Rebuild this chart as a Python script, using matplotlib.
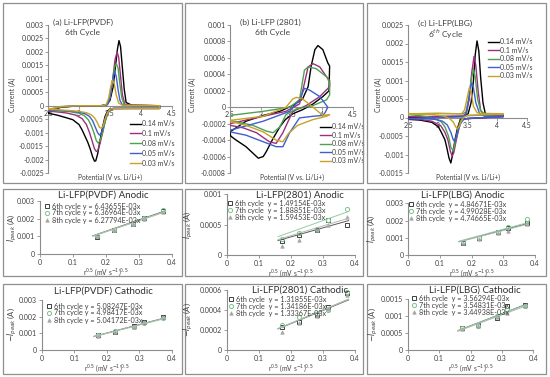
import numpy as np
import matplotlib
matplotlib.use('Agg')
import matplotlib.pyplot as plt
from matplotlib.patches import Rectangle
from matplotlib.ticker import FuncFormatter

plt.rcParams['font.family'] = ['Lato', 'DejaVu Sans']

# ---------------- data: CV curves (6th cycle) ----------------
rates = ['0.14 mV/s', '0.1 mV/s', '0.08 mV/s', '0.05 mV/s', '0.03 mV/s']
rate_colors = ['#000000', '#9b2f7d', '#4ea24e', '#3f5fcf', '#c9a227']

# (a) Li-LFP(PVDF)
pvdf_v_014 = [2.5, 2.7, 3.0, 3.35, 3.45, 3.5, 3.55, 3.59, 3.62, 3.645, 3.67, 3.7, 3.73, 3.76, 3.85, 4.3,
              4.3, 3.8, 3.55, 3.5, 3.46, 3.42, 3.38, 3.34, 3.3, 3.27, 3.25, 3.22, 3.18, 3.14, 3.1, 3.05, 3.0, 2.9, 2.8, 2.65, 2.5]
pvdf_i_014 = [-0.00025, -0.00006, 0.0, 0.0, 0.00003, 0.0002, 0.0007, 0.0015, 0.0021, 0.00242, 0.0022, 0.0014, 0.0006, 0.00012, 0.00002, 0.0,
              -0.0001, -0.0001, -0.0001, -0.00012, -0.0002, -0.0004, -0.0008, -0.00128, -0.0018, -0.00205, -0.00206, -0.0019, -0.0016, -0.00135, -0.00115, -0.0009, -0.0007, -0.00052, -0.00045, -0.00035, -0.00028]
pvdf_v_010 = [2.5, 2.7, 3.0, 3.35, 3.45, 3.5, 3.54, 3.58, 3.615, 3.64, 3.67, 3.7, 3.74, 3.85, 4.3,
              4.3, 3.8, 3.55, 3.5, 3.46, 3.42, 3.38, 3.34, 3.3, 3.28, 3.25, 3.21, 3.17, 3.12, 3.05, 2.95, 2.8, 2.65, 2.5]
pvdf_i_010 = [-0.0002, -0.00005, 0.0, 0.0, 0.00005, 0.0003, 0.0009, 0.0017, 0.0020, 0.0018, 0.0011, 0.0004, 0.00005, 0.00001, 0.0,
              -0.0001, -0.0001, -0.00011, -0.00015, -0.0003, -0.0006, -0.001, -0.0014, -0.00168, -0.0017, -0.0016, -0.0013, -0.001, -0.0007, -0.00048, -0.00035, -0.00027, -0.00023, -0.0002]
pvdf_v_008 = [2.5, 2.7, 3.0, 3.38, 3.46, 3.5, 3.54, 3.57, 3.6, 3.63, 3.66, 3.69, 3.73, 3.85, 4.3,
              4.3, 3.8, 3.56, 3.5, 3.46, 3.42, 3.38, 3.34, 3.31, 3.28, 3.24, 3.2, 3.15, 3.08, 3.0, 2.85, 2.65, 2.5]
pvdf_i_008 = [-0.00018, -0.00004, 0.0, 0.0, 0.00005, 0.0003, 0.0009, 0.0014, 0.00158, 0.0014, 0.0008, 0.0003, 0.00004, 0.00001, 0.0,
              -0.0001, -0.0001, -0.0001, -0.00015, -0.0003, -0.0006, -0.001, -0.0013, -0.00139, -0.0013, -0.001, -0.00075, -0.00052, -0.00036, -0.00028, -0.00022, -0.00019, -0.00017]
pvdf_v_005 = [2.5, 2.7, 3.0, 3.38, 3.46, 3.5, 3.53, 3.555, 3.575, 3.6, 3.63, 3.66, 3.7, 3.85, 4.3,
              4.3, 3.8, 3.56, 3.5, 3.46, 3.42, 3.38, 3.35, 3.33, 3.3, 3.26, 3.22, 3.17, 3.1, 3.0, 2.85, 2.65, 2.5]
pvdf_i_005 = [-0.00016, -0.00004, 0.0, 0.0, 0.00005, 0.0003, 0.0008, 0.0011, 0.00126, 0.0011, 0.0006, 0.0002, 0.00003, 0.00001, 0.0,
              -0.0001, -0.0001, -0.0001, -0.00014, -0.00025, -0.0005, -0.0009, -0.00105, -0.00109, -0.001, -0.00078, -0.00056, -0.0004, -0.0003, -0.00024, -0.0002, -0.00017, -0.00015]
pvdf_v_003 = [2.5, 2.7, 3.0, 3.38, 3.44, 3.48, 3.51, 3.54, 3.57, 3.6, 3.64, 3.7, 3.85, 4.3,
              4.3, 3.8, 3.56, 3.5, 3.46, 3.42, 3.39, 3.36, 3.33, 3.29, 3.25, 3.2, 3.12, 3.0, 2.85, 2.65, 2.5]
pvdf_i_003 = [-0.00014, -0.00003, 0.0, 0.0, 0.00005, 0.0003, 0.0007, 0.00095, 0.0008, 0.0004, 0.0001, 0.00002, 0.00001, 0.0,
              -0.0001, -0.0001, -0.0001, -0.00013, -0.00025, -0.0005, -0.00075, -0.00084, -0.0008, -0.0006, -0.00045, -0.00034, -0.00026, -0.00021, -0.00018, -0.00015, -0.00013]

# (b) Li-LFP (2801)
c2801_v_014 = [2.5, 2.76, 3.04, 3.31, 3.52, 3.68, 3.77, 3.82, 3.88, 3.93, 4.01, 4.09, 4.12, 4.11, 4.01, 3.85, 3.68,
               3.52, 3.4, 3.31, 3.2, 3.09, 3.04, 2.96, 2.76, 2.6, 2.51, 2.5]
c2801_i_014 = [-0.0003, -0.00017, -0.0001, -0.00005, 0.00002, 0.0001, 0.00025, 0.0005, 0.0007, 0.00075, 0.0007, 0.00054, 0.0005, 0.0002, 0.00013, 0.00004, -0.00003,
               -0.00008, -0.00015, -0.00024, -0.00038, -0.00054, -0.0006, -0.00062, -0.00048, -0.0004, -0.00035, -0.0003]
c2801_v_010 = [2.5, 3.04, 3.41, 3.63, 3.71, 3.77, 3.85, 3.96, 4.07, 4.12, 4.12, 3.96, 3.74, 3.52, 3.36, 3.25, 3.14, 2.93, 2.71, 2.5]
c2801_i_010 = [-0.0002, -0.00011, -0.00005, 0.00004, 0.00029, 0.00049, 0.00053, 0.00049, 0.00037, 0.00033, 0.00025, 0.00013, 0.00002, -0.00005, -0.00031, -0.00044, -0.00042, -0.00031, -0.00025, -0.00022]
c2801_v_008 = [2.5, 3.04, 3.47, 3.63, 3.71, 3.77, 3.9, 4.07, 4.12, 4.12, 4.07, 3.85, 3.58, 3.41, 3.31, 3.2, 3.09, 2.87, 2.5]
c2801_i_008 = [-0.0001, -0.00005, 0.0, 0.00009, 0.00045, 0.00049, 0.00047, 0.00037, 0.0003, 0.00015, 0.00009, 0.00002, -0.00002, -0.00009, -0.00024, -0.00031, -0.00029, -0.00022, -0.00016]
c2801_v_005 = [2.5, 3.04, 3.47, 3.63, 3.71, 3.79, 3.96, 4.09, 4.05, 4.01, 3.85, 3.63, 3.47, 3.36, 3.25, 3.04, 2.76, 2.5]
c2801_i_005 = [-0.00028, -0.00017, -0.00005, 0.00009, 0.00023, 0.00021, 0.00013, 0.0, -0.00006, -0.0001, -0.00011, -0.00013, -0.00031, -0.00048, -0.00048, -0.00042, -0.00034, -0.0003]
c2801_v_003 = [2.5, 3.04, 3.41, 3.52, 3.58, 3.68, 3.85, 4.01, 4.12, 4.07, 3.85, 3.6, 3.45, 3.36, 3.25, 3.04, 2.76, 2.5]
c2801_i_003 = [-0.00016, -0.00011, 0.0, 0.0001, 0.00012, 0.0001, 0.0, -0.0001, -0.00009, -0.00011, -0.00015, -0.00022, -0.00032, -0.00042, -0.0004, -0.0003, -0.00022, -0.00017]

# (c) Li-LFP(LBG)
lbg_v_014 = [2.5, 3.0, 3.45, 3.51, 3.56, 3.6, 3.63, 3.66, 3.69, 3.72, 3.76, 3.8, 4.1,
             4.1, 3.5, 3.42, 3.38, 3.33, 3.29, 3.25, 3.22, 3.19, 3.15, 3.12, 3.06, 3.01, 2.9, 2.7, 2.5]
lbg_i_014 = [0.0, 0.00002, 0.00003, 0.0001, 0.0004, 0.001, 0.0017, 0.00207, 0.0018, 0.0011, 0.0004, 0.0001, 0.00005,
             0.00003, -0.00003, -0.00005, -0.00005, -0.0003, -0.0006, -0.001, -0.00123, -0.0011, -0.0008, -0.0006, -0.0004, -0.00025, -0.00013, -0.00007, -0.00005]
lbg_v_010 = [2.5, 3.0, 3.42, 3.48, 3.53, 3.57, 3.61, 3.64, 3.68, 3.72, 3.78, 4.1,
             4.1, 3.5, 3.42, 3.38, 3.34, 3.3, 3.27, 3.24, 3.21, 3.17, 3.12, 3.05, 2.9, 2.7, 2.5]
lbg_i_010 = [0.00002, 0.00003, 0.00004, 0.0001, 0.0005, 0.0012, 0.00165, 0.0014, 0.0007, 0.0002, 0.00006, 0.00005,
             0.00002, -0.00003, -0.00006, -0.00015, -0.0004, -0.0007, -0.00095, -0.00104, -0.0009, -0.0006, -0.0004, -0.00022, -0.0001, -0.00005, -0.00003]
lbg_v_008 = [2.5, 3.0, 3.42, 3.48, 3.52, 3.56, 3.6, 3.63, 3.67, 3.72, 3.78, 4.1,
             4.1, 3.5, 3.42, 3.38, 3.34, 3.3, 3.26, 3.22, 3.18, 3.12, 3.05, 2.9, 2.7, 2.5]
lbg_i_008 = [0.0001, 0.00011, 0.0001, 0.00015, 0.0005, 0.001, 0.0013, 0.0011, 0.0005, 0.00018, 0.00011, 0.0001,
             0.00008, 0.00005, 0.0, -0.0001, -0.0003, -0.0006, -0.0009, -0.0008, -0.0005, -0.00025, -0.0001, 0.0, 0.00005, 0.00008]
lbg_v_005 = [2.5, 3.0, 3.42, 3.47, 3.51, 3.54, 3.57, 3.6, 3.64, 3.7, 3.78, 4.1,
             4.1, 3.5, 3.43, 3.39, 3.35, 3.32, 3.29, 3.26, 3.22, 3.16, 3.08, 2.95, 2.7, 2.5]
lbg_i_005 = [-0.00003, 0.0, 0.00002, 0.0001, 0.0004, 0.0007, 0.00093, 0.0008, 0.0004, 0.00012, 0.00004, 0.00003,
             0.00002, -0.00002, -0.00006, -0.00015, -0.0003, -0.0005, -0.00066, -0.0006, -0.0004, -0.0002, -0.0001, -0.00005, -0.00003, -0.00003]
lbg_v_003 = [2.5, 3.0, 3.4, 3.45, 3.49, 3.53, 3.56, 3.6, 3.66, 3.75, 4.1,
             4.1, 3.5, 3.43, 3.39, 3.36, 3.33, 3.3, 3.26, 3.2, 3.1, 2.9, 2.5]
lbg_i_003 = [0.0001, 0.00011, 0.0001, 0.0002, 0.0005, 0.0008, 0.0007, 0.0003, 0.00013, 0.0001, 0.0001,
             0.00009, 0.00006, 0.0, -0.00012, -0.00025, -0.0003, -0.00025, -0.00012, -0.00003, 0.00004, 0.00008, 0.0001]

# ---------------- data: peak current vs sqrt(scan rate) ----------------
sqrt_rate = [0.173, 0.224, 0.283, 0.316, 0.374]
cycles = ['6th cycle', '7th cycle', '8th cycle']

pvdf_an = [[0.00098, 0.00136, 0.0017, 0.00202, 0.00245],
           [0.00102, 0.00138, 0.00172, 0.00204, 0.0025],
           [0.001, 0.00134, 0.00168, 0.002, 0.0024]]
pvdf_an_k = [6.43655e-3, 6.36964e-3, 6.27794e-3]
c2801_an = [[0.00023, 0.00033, 0.00041, 0.00057, 0.0005],
            [0.00027, 0.00036, 0.00043, 0.00058, 0.00076],
            [0.00015, 0.00024, 0.00041, 0.00049, 0.00063]]
c2801_an_k = [1.49154e-3, 1.88851e-3, 1.59453e-3]
lbg_an = [[0.00072, 0.00097, 0.00132, 0.00159, 0.00184],
          [0.00075, 0.001, 0.00135, 0.00163, 0.0021],
          [0.00072, 0.00092, 0.0013, 0.0014, 0.0018]]
lbg_an_k = [4.84671e-3, 4.99028e-3, 4.74665e-3]

pvdf_ca = [[0.0009, 0.0011, 0.00142, 0.0017, 0.002],
           [0.00088, 0.00112, 0.0014, 0.00165, 0.00195],
           [0.00087, 0.0011, 0.00138, 0.00168, 0.00198]]
pvdf_ca_k = [5.08247e-3, 4.98417e-3, 5.04172e-3]
c2801_ca = [[0.00023, 0.00028, 0.00035, 0.00043, 0.00057],
            [0.00025, 0.00033, 0.00036, 0.0004, 0.00058],
            [0.00018, 0.00027, 0.00034, 0.00041, 0.00055]]
c2801_ca_k = [1.31855e-3, 1.34186e-3, 1.33367e-3]
lbg_ca = [[0.00065, 0.00073, 0.00095, 0.0013, 0.00133],
          [0.00065, 0.00072, 0.001, 0.00117, 0.0013],
          [0.00062, 0.0007, 0.00097, 0.0011, 0.0013]]
lbg_ca_k = [3.56294e-3, 3.54831e-3, 3.44938e-3]

# ---------------- figure ----------------
W, H = 550, 377
fig = plt.figure(figsize=(W / 100, H / 100), dpi=100)
fig.patch.set_facecolor('white')
txt = '#404040'
grey = '#8c8c8c'


def px_axes(x0, x1, y0, y1):
    return fig.add_axes([x0 / W, 1 - y1 / H, (x1 - x0) / W, (y1 - y0) / H])


def ftext(x, y, s, **kw):
    kw.setdefault('color', txt)
    return fig.text(x / W, 1 - y / H, s, **kw)


def box(x0, x1, y0, y1):
    fig.add_artist(Rectangle((x0 / W, 1 - y1 / H), (x1 - x0) / W, (y1 - y0) / H,
                             transform=fig.transFigure, fill=False, ec='#8f8f8f', lw=0.9))


fmt = FuncFormatter(lambda v, p: '%g' % (round(v, 6) + 0.0) if abs(v) > 1e-9 else '0')

cols = [(3, 182), (185, 363), (367, 546)]
for x0, x1 in cols:
    box(x0, x1, 3, 183)
    box(x0, x1, 189, 276)
    box(x0, x1, 284, 374)


def cv_panel(rect, curves, ylim, ystep, ylab_x, leg_xy, ls):
    ax = px_axes(*rect)
    for (v, i), c, lab in zip(curves, rate_colors, rates):
        ax.plot(v, i, color=c, lw=1.0, label=lab, zorder=3)
    ax.set_xlim(2.5, 4.5)
    ax.set_ylim(*ylim)
    ax.set_xticks([2.5, 3, 3.5, 4, 4.5])
    ax.set_yticks(np.round(np.arange(ylim[0], ylim[1] + ystep / 2, ystep), 6))
    ax.xaxis.set_major_formatter(fmt)
    ax.yaxis.set_major_formatter(fmt)
    for s in ['top', 'right']:
        ax.spines[s].set_visible(False)
    ax.spines['bottom'].set_position(('data', 0))
    for s in ['left', 'bottom']:
        ax.spines[s].set_color(grey)
        ax.spines[s].set_linewidth(0.8)
    ax.tick_params(labelsize=5, colors=txt, length=2, width=0.6, pad=1)
    ax.tick_params(axis='x', color=grey)
    ax.tick_params(axis='y', color=grey)
    ax.patch.set_alpha(0)
    cx = (rect[0] + rect[1]) / 2
    ftext(cx, 177, 'Potential (V vs. Li/Li+)', fontsize=4.8, ha='center', va='center')
    ftext(ylab_x, 95, 'Current (A)', fontsize=5, rotation=90, ha='center', va='center')
    ax.legend(loc='upper left', bbox_to_anchor=(leg_xy[0] / W, 1 - leg_xy[1] / H),
              bbox_transform=fig.transFigure, frameon=False, fontsize=5,
              handlelength=1.6, handletextpad=0.1, labelspacing=ls, borderpad=0,
              borderaxespad=0, labelcolor=txt)
    return ax


cv_panel((48, 172, 25, 173),
         [(pvdf_v_014, pvdf_i_014), (pvdf_v_010, pvdf_i_010), (pvdf_v_008, pvdf_i_008),
          (pvdf_v_005, pvdf_i_005), (pvdf_v_003, pvdf_i_003)],
         (-0.0025, 0.003), 0.0005, 12, (130, 120), 0.42)
cv_panel((230, 353, 25, 173),
         [(c2801_v_014, c2801_i_014), (c2801_v_010, c2801_i_010), (c2801_v_008, c2801_i_008),
          (c2801_v_005, c2801_i_005), (c2801_v_003, c2801_i_003)],
         (-0.0008, 0.001), 0.0002, 192, (320, 123), 0.22)
cv_panel((408, 527, 25, 173),
         [(lbg_v_014, lbg_i_014), (lbg_v_010, lbg_i_010), (lbg_v_008, lbg_i_008),
          (lbg_v_005, lbg_i_005), (lbg_v_003, lbg_i_003)],
         (-0.0015, 0.0025), 0.0005, 378, (488, 38), 0.22)

ftext(53, 22, '(a) Li-LFP(PVDF)', fontsize=6, va='center')
ftext(65, 33, '6th Cycle', fontsize=6, va='center')
ftext(240, 22, '(b) Li-LFP (2801)', fontsize=6, va='center')
ftext(255, 33, '6th Cycle', fontsize=6, va='center')
ftext(418, 23, '(c) Li-LFP(LBG)', fontsize=6, va='center')
ftext(428, 34, '6$^{th}$ Cycle', fontsize=6, va='center')

# ---------------- scatter panels ----------------
mk_style = [dict(marker='s', mfc='none', mec='#404040', ms=3, mew=0.7),
            dict(marker='o', mfc='none', mec='#7cc48c', ms=3, mew=0.7),
            dict(marker='^', mfc='#a6a6a6', mec='#a6a6a6', ms=2.5, mew=0.5)]
fit_colors = ['#595959', '#8fd0a0', '#b5b5b5']
fit_x = np.array([0.16, 0.38])


def fit_panel(rect, ys, ks, ylim, yticks, title, title_xy, ylab, ylab_x, leg_xy, label_pad):
    ax = px_axes(*rect)
    for y, k, st, fc, cy in zip(ys, ks, mk_style, fit_colors, cycles):
        ax.plot(sqrt_rate, y, ls='none', label=cy + label_pad + 'y = %.5fE-03x' % (k * 1e3), **st)
        ax.plot(fit_x, k * fit_x, color=fc, lw=0.7)
    ax.set_xlim(0, 0.4)
    ax.set_ylim(*ylim)
    ax.set_xticks([0, 0.1, 0.2, 0.3, 0.4])
    ax.set_yticks(yticks)
    ax.xaxis.set_major_formatter(fmt)
    ax.yaxis.set_major_formatter(fmt)
    for s in ['top', 'right']:
        ax.spines[s].set_visible(False)
    for s in ['left', 'bottom']:
        ax.spines[s].set_color(grey)
        ax.spines[s].set_linewidth(0.8)
    ax.tick_params(labelsize=5, colors=txt, length=2, width=0.6, pad=1.5)
    ax.tick_params(axis='both', color=grey)
    ax.patch.set_alpha(0)
    ftext(title_xy[0], title_xy[1], title, fontsize=7, ha='center', va='center', color='#303030')
    cx = (rect[0] + rect[1]) / 2
    ftext(cx, rect[3] + 18, r'r$^{0.5}$ (mV s$^{-1}$)$^{0.5}$', fontsize=4.8, ha='center', va='center')
    ftext(ylab_x, (rect[2] + rect[3]) / 2, ylab, fontsize=5.5, rotation=90, ha='center', va='center')
    ax.legend(loc='upper left', bbox_to_anchor=(leg_xy[0] / W, 1 - leg_xy[1] / H),
              bbox_transform=fig.transFigure, frameon=False, fontsize=5.2,
              handlelength=0.8, handletextpad=0.3, labelspacing=0.0, borderpad=0,
              borderaxespad=0, labelcolor=txt)
    return ax


fit_panel((40, 172, 201, 254), pvdf_an, pvdf_an_k, (0, 0.003), [0, 0.001, 0.002, 0.003],
          'Li-LFP(PVDF) Anodic', (103, 195), r'$I_{peak}$ (A)', 12, (44, 202.5), ' ')
fit_panel((226.7, 355, 194.3, 255), c2801_an, c2801_an_k, (0, 0.001), [0, 0.0005, 0.001],
          'Li-LFP(2801) Anodic', (300, 195), r'$I_{peak}$ (A)', 188, (227, 200), '  ')
fit_panel((408.3, 535, 203.3, 255), lbg_an, lbg_an_k, (0, 0.003), [0, 0.001, 0.002, 0.003],
          'Li-LFP(LBG) Anodic', (463, 195), r'$I_{peak}$ (A)', 372, (408, 201), '  ')

fit_panel((41.7, 171.7, 300, 350), pvdf_ca, pvdf_ca_k, (0, 0.003), [0, 0.001, 0.002, 0.003],
          'Li-LFP(PVDF) Cathodic', (103, 291), r'$-I_{peak}$ (A)', 12, (46, 302.5), ' ')
fit_panel((226.7, 355, 290, 350), c2801_ca, c2801_ca_k, (0, 0.0006), [0, 0.0002, 0.0004, 0.0006],
          'Li-LFP(2801) Cathodic', (300, 290), r'$-I_{peak}$ (A)', 188, (228, 296), '  ')
fit_panel((407.7, 533.3, 299, 350), lbg_ca, lbg_ca_k, (0, 0.0015), [0, 0.0005, 0.001, 0.0015],
          'Li-LFP(LBG) Cathodic', (475, 290), r'$-I_{peak}$ (A)', 373, (411, 295), '  ')

fig.savefig('out.png', dpi=100)
